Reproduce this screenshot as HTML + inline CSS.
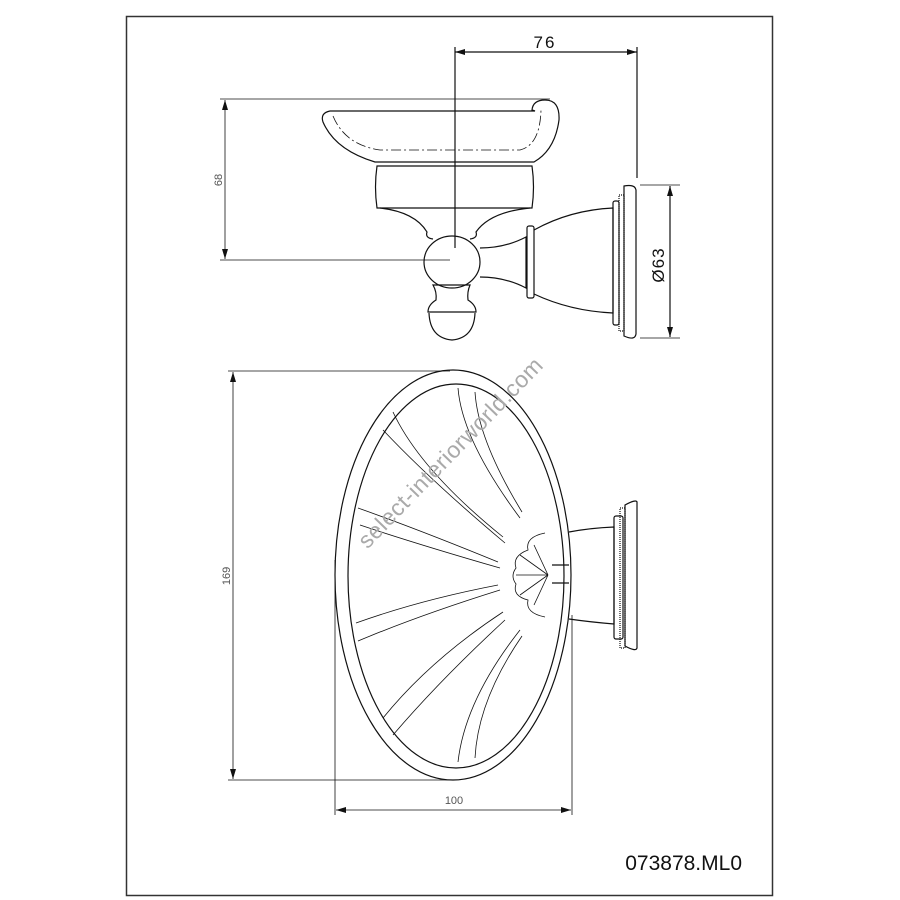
<!DOCTYPE html>
<html><head><meta charset="utf-8"><style>
html,body{margin:0;padding:0;background:#fff;}
svg{display:block;}
</style></head><body>
<svg width="900" height="900" viewBox="0 0 900 900" xmlns="http://www.w3.org/2000/svg">
<defs>
<marker id="a" viewBox="0 0 10 6" refX="10" refY="3" markerWidth="10" markerHeight="6" orient="auto-start-reverse" markerUnits="userSpaceOnUse"><path d="M0,0 L10,3 L0,6 z" fill="#111"/></marker>
</defs>
<rect x="126.5" y="16.5" width="646" height="879" fill="none" stroke="#333" stroke-width="1.5"/>
<g fill="none" stroke="#111" stroke-width="1.2">
<line x1="455" y1="52" x2="637" y2="52" marker-start="url(#a)" marker-end="url(#a)"/>
<line x1="455" y1="47" x2="455" y2="248"/>
<line x1="637" y1="47" x2="637" y2="178"/>
<line x1="220" y1="99" x2="550" y2="99" stroke-width="0.8"/>
<line x1="220" y1="260" x2="450" y2="260" stroke-width="0.8"/>
<line x1="225" y1="100" x2="225" y2="259" stroke-width="0.8" marker-start="url(#a)" marker-end="url(#a)"/>
<line x1="640" y1="185" x2="680" y2="185" stroke-width="0.8"/>
<line x1="640" y1="338" x2="680" y2="338" stroke-width="0.8"/>
<line x1="670" y1="186" x2="670" y2="337" marker-start="url(#a)" marker-end="url(#a)"/>
<path d="M330,111 Q320,113 323,122 Q335,150 375,162 L534,162 Q555,150 559,120 Q560,100 545,100 Q533,100 532,110 L535,111 Z"/>
<path d="M333,116 Q345,145 380,150 L520,150 Q540,145 541,110" stroke-dasharray="10,3,2,3" stroke-width="0.8"/>
<path d="M377,166 L532,166 Q535,187 532,208 L377,208 Q374,187 377,166 Z"/>
<path d="M380,208 Q415,212 427,232 Q425,238 433,239"/>
<path d="M530,208 Q490,212 476,232 Q478,238 470,239"/>
<ellipse cx="452" cy="262" rx="28" ry="26"/>
<path d="M433,285 L470,285 Q467,292 468,300 Q476,305 476,312 L428,312 Q428,305 436,300 Q437,292 433,285Z"/>
<path d="M429,313 Q430,338 452,340 Q474,338 475,313"/>
<path d="M480,248 Q505,248 526,237 L526,288 Q505,277 480,277"/>
<rect x="527" y="226" width="7" height="72" rx="2"/>
<path d="M534,230 Q570,210 613,208 L613,313 Q570,311 534,294"/>
<rect x="613" y="201" width="6" height="124" rx="2"/>
<rect x="619" y="195" width="5" height="136" stroke-dasharray="1,1"/>
<path d="M624,186 Q635,184 636,190 L636,334 Q635,341 624,336 Z"/>
<line x1="228" y1="371" x2="450" y2="371" stroke-width="0.8"/>
<line x1="228" y1="780" x2="450" y2="780" stroke-width="0.8"/>
<line x1="233" y1="372" x2="233" y2="779" stroke-width="0.8" marker-start="url(#a)" marker-end="url(#a)"/>
<line x1="335" y1="560" x2="335" y2="815" stroke-width="0.8"/>
<line x1="572" y1="615" x2="572" y2="815" stroke-width="0.8"/>
<line x1="336" y1="810" x2="571" y2="810" stroke-width="0.8" marker-start="url(#a)" marker-end="url(#a)"/>
<ellipse cx="453" cy="575" rx="118" ry="205"/>
<ellipse cx="456" cy="576" rx="108" ry="192"/>
<g stroke-width="0.8">
<path d="M458,388 Q462,440 520,518"/><path d="M475,392 Q478,440 522,512"/>
<path d="M393,412 Q420,470 503,537"/><path d="M383,430 Q430,480 505,543"/>
<path d="M358,508 Q420,530 498,562"/><path d="M360,525 Q420,545 500,568"/>
<path d="M356,623 Q420,600 498,585"/><path d="M358,641 Q420,615 500,590"/>
<path d="M383,718 Q430,660 503,612"/><path d="M393,735 Q440,680 505,620"/>
<path d="M458,762 Q465,700 520,630"/><path d="M475,758 Q478,700 522,636"/>
<path d="M545,533 Q525,537 528,550 Q512,556 516,568 Q510,576 516,584 Q512,596 528,600 Q525,613 545,617"/>
<path d="M548,575 L520,555 M548,575 L516,575 M548,575 L520,595 M548,575 L534,545 M548,575 L534,605"/>
</g>
<path d="M569,565 L552,565 M569,583 L552,583"/>
<path d="M569,532 Q590,528 614,527 L614,624 Q590,622 569,619"/>
<rect x="614" y="516" width="9" height="123" rx="2"/>
<rect x="620" y="508" width="5" height="140" stroke-dasharray="1,1"/>
<path d="M625,505 Q636,499 637,502 L637,648 Q636,652 625,646 Z"/>
</g>
<g font-family="Liberation Sans, sans-serif" fill="#111">
<text x="545" y="48" font-size="17" text-anchor="middle" letter-spacing="2">76</text>
<text transform="translate(222,180) rotate(-90)" font-size="11" text-anchor="middle" fill="#555">68</text>
<text transform="translate(664,265) rotate(-90)" font-size="17" text-anchor="middle" letter-spacing="1">Ø63</text>
<text transform="translate(230,576) rotate(-90)" font-size="11" text-anchor="middle" fill="#555">169</text>
<text x="454" y="804" font-size="11" text-anchor="middle" fill="#555">100</text>
<text transform="translate(456,458) rotate(-46)" font-size="23" text-anchor="middle" fill="#aaa" letter-spacing="0.5">select-interiorworld.com</text>
<text x="742" y="870" font-size="21" text-anchor="end">073878.ML0</text>
</g>
</svg>
</body></html>
